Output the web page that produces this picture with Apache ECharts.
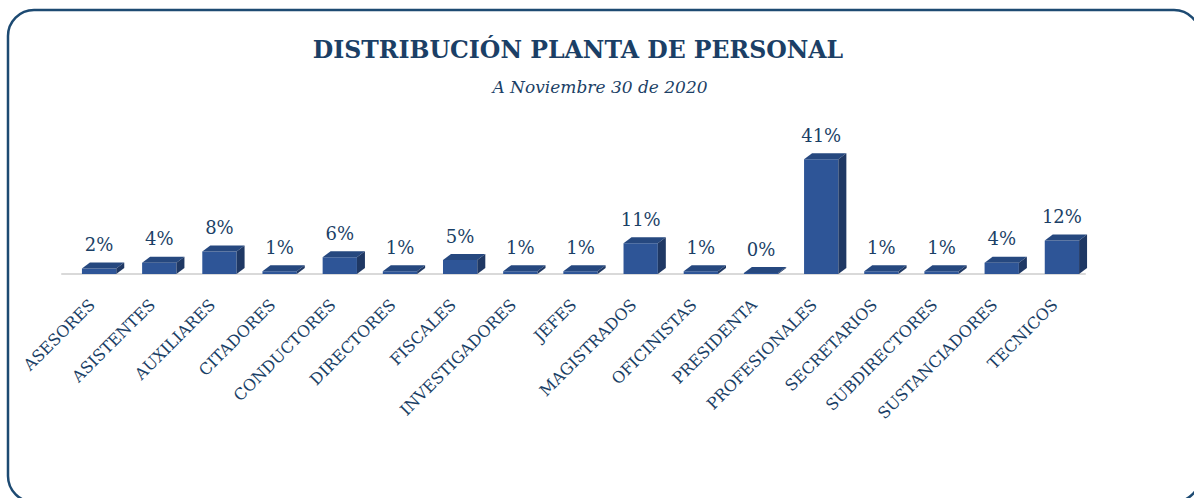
<!DOCTYPE html>
<html>
<head>
<meta charset="utf-8">
<script src="https://cdn.jsdelivr.net/npm/echarts@6/dist/echarts.min.js"></script>
<style>
  html, body { margin: 0; padding: 0; background: #fff; }
  #chart { width: 1194px; height: 498px; }
</style>
</head>
<body>
<div id="chart"></div>
<script>
const categories = ['ASESORES', 'ASISTENTES', 'AUXILIARES', 'CITADORES', 'CONDUCTORES', 'DIRECTORES', 'FISCALES',
  'INVESTIGADORES', 'JEFES', 'MAGISTRADOS', 'OFICINISTAS', 'PRESIDENTA', 'PROFESIONALES', 'SECRETARIOS',
  'SUBDIRECTORES', 'SUSTANCIADORES', 'TECNICOS']
const percents = [2, 4, 8, 1, 6, 1, 5, 1, 1, 11, 1, 0, 41, 1, 1, 4, 12]

const navy = '#1b3f66'
const serif = 'DejaVu Serif'

// caja 3D: frente + tapa + lado
const depthX = 8
const depthY = 6
const shiftX = 7

const renderBox = (params, api) => {
  const i = api.value(0)
  const v = api.value(1)
  const top = api.coord([i, v])
  const base = api.coord([i, 0])
  const band = api.size([1, 0])[0]
  const w = band * 0.57
  const x0 = top[0] + shiftX - w / 2
  const x1 = x0 + w
  const yB = base[1]
  const yT = Math.min(top[1], yB - 1)
  return {
    type: 'group',
    children: [
      {
        type: 'rect',
        shape: { x: x0, y: yT, width: w, height: yB - yT },
        style: { fill: '#2e5597' }
      },
      {
        type: 'polygon',
        shape: { points: [[x0, yT], [x0 + depthX, yT - depthY], [x1 + depthX, yT - depthY], [x1, yT]] },
        style: { fill: '#26487f' }
      },
      {
        type: 'polygon',
        shape: { points: [[x1, yT], [x1 + depthX, yT - depthY], [x1 + depthX, yB - depthY], [x1, yB]] },
        style: { fill: '#1f3864' }
      },
      {
        type: 'text',
        x: (x0 + x1) / 2,
        y: yT - depthY - 9,
        style: {
          text: v + '%',
          fill: navy,
          font: '18px "' + serif + '"',
          align: 'center',
          verticalAlign: 'bottom'
        }
      }
    ]
  }
}

const option = {
  animation: false,
  backgroundColor: '#fff',
  title: [
    {
      text: 'DISTRIBUCIÓN PLANTA DE PERSONAL',
      left: 578,
      top: 38,
      textAlign: 'center',
      padding: 0,
      textStyle: { fontFamily: serif, fontWeight: 'bold', fontSize: 23.6, color: navy }
    },
    {
      text: 'A Noviembre 30 de 2020',
      left: 600,
      top: 78,
      textAlign: 'center',
      padding: 0,
      textStyle: { fontFamily: serif, fontStyle: 'italic', fontWeight: 'normal', fontSize: 17, color: navy }
    }
  ],
  graphic: [
    {
      type: 'rect',
      shape: { x: 8, y: 10, width: 1192, height: 492, r: 26 },
      style: { fill: 'none', stroke: '#1d4a72', lineWidth: 2.5 },
      silent: true
    }
  ],
  grid: { left: 62, right: 109, top: 134, bottom: 224 },
  xAxis: {
    type: 'category',
    data: categories,
    offset: 5,
    axisLine: { lineStyle: { color: '#d9d9d9', width: 2 } },
    axisTick: { show: false },
    axisLabel: {
      interval: 0,
      rotate: 45,
      margin: 23,
      color: navy,
      fontFamily: serif,
      fontSize: 16
    }
  },
  yAxis: {
    type: 'value',
    min: 0,
    max: 50,
    show: false
  },
  series: [
    {
      type: 'custom',
      renderItem: renderBox,
      data: percents.map((v, i) => [i, v])
    }
  ]
}

const chart = echarts.init(document.getElementById('chart'), null, { renderer: 'svg' })
chart.setOption(option)
</script>
</body>
</html>
